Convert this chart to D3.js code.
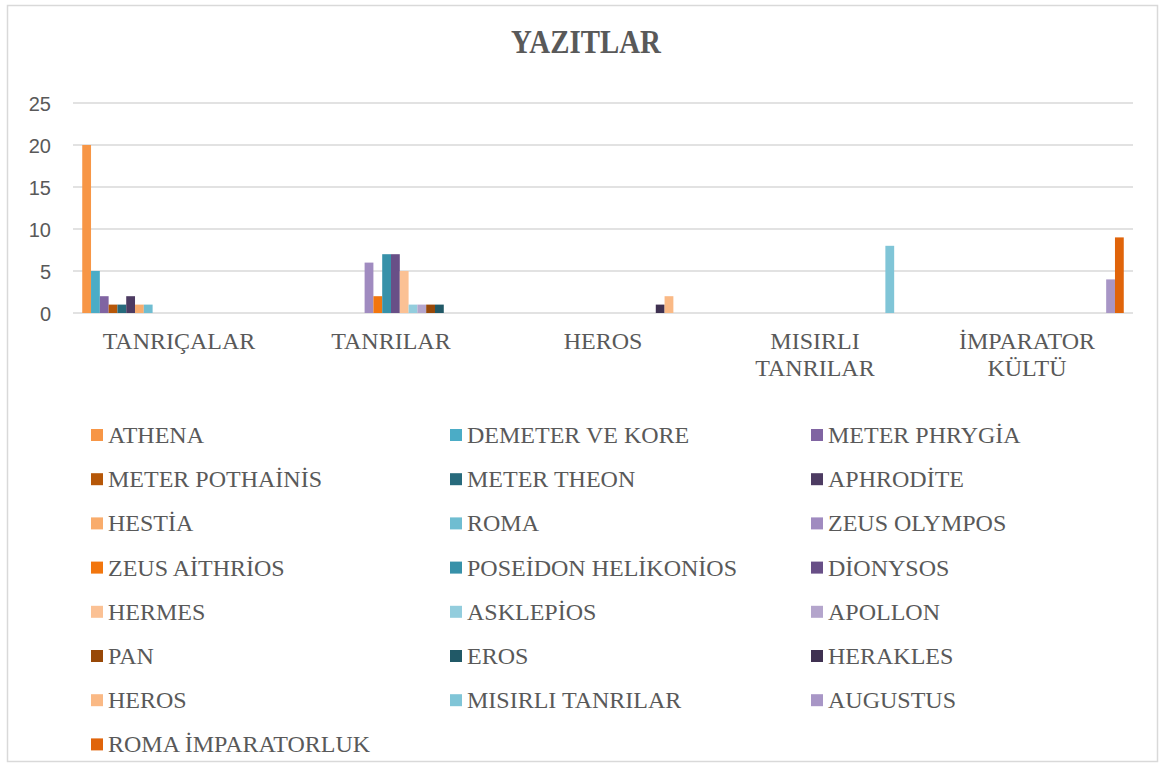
<!DOCTYPE html>
<html>
<head>
<meta charset="utf-8">
<script src="https://cdn.jsdelivr.net/npm/d3@7"></script>
<style>
  html, body { margin: 0; padding: 0; background: #fff; }
  svg { display: block; }
</style>
</head>
<body>
<svg id="chart" width="1161" height="765"></svg>
<script>
// Inscription counts per cult group, one series per deity / cult
const categories = ["TANRIÇALAR", "TANRILAR", "HEROS", "MISIRLI TANRILAR", "İMPARATOR KÜLTÜ"];
const categoryLines = [["TANRIÇALAR"], ["TANRILAR"], ["HEROS"], ["MISIRLI", "TANRILAR"], ["İMPARATOR", "KÜLTÜ"]];

const seriesNames = [
  "ATHENA", "DEMETER VE KORE", "METER PHRYGİA",
  "METER POTHAİNİS", "METER THEON", "APHRODİTE",
  "HESTİA", "ROMA", "ZEUS OLYMPOS",
  "ZEUS AİTHRİOS", "POSEİDON HELİKONİOS", "DİONYSOS",
  "HERMES", "ASKLEPİOS", "APOLLON",
  "PAN", "EROS", "HERAKLES",
  "HEROS", "MISIRLI TANRILAR", "AUGUSTUS",
  "ROMA İMPARATORLUK"
];

// values[i][j] = value of series i in category j (null = no bar)
const athena          = [20, null, null, null, null];
const demeterKore     = [5, null, null, null, null];
const meterPhrygia    = [2, null, null, null, null];
const meterPothainis  = [1, null, null, null, null];
const meterTheon      = [1, null, null, null, null];
const aphrodite       = [2, null, null, null, null];
const hestia          = [1, null, null, null, null];
const roma            = [1, null, null, null, null];
const zeusOlympos     = [null, 6, null, null, null];
const zeusAithrios    = [null, 2, null, null, null];
const poseidon        = [null, 7, null, null, null];
const dionysos        = [null, 7, null, null, null];
const hermes          = [null, 5, null, null, null];
const asklepios       = [null, 1, null, null, null];
const apollon         = [null, 1, null, null, null];
const pan             = [null, 1, null, null, null];
const eros            = [null, 1, null, null, null];
const herakles        = [null, null, 1, null, null];
const heros           = [null, null, 2, null, null];
const misirliTanrilar = [null, null, null, 8, null];
const augustus        = [null, null, null, null, 4];
const romaImparator   = [null, null, null, null, 9];

const values = [athena, demeterKore, meterPhrygia, meterPothainis, meterTheon, aphrodite,
  hestia, roma, zeusOlympos, zeusAithrios, poseidon, dionysos, hermes, asklepios, apollon,
  pan, eros, herakles, heros, misirliTanrilar, augustus, romaImparator];

const yTicks = [0, 5, 10, 15, 20, 25];

const colors = [
  "#F79646", "#4BACC6", "#8064A2",
  "#B65708", "#276A7C", "#4D3B62",
  "#F9AC6C", "#6FBDD1", "#A08BC0",
  "#F2760E", "#3791A9", "#684F87",
  "#FBC194", "#93CDDD", "#B4A5CC",
  "#984807", "#215967", "#3F3151",
  "#FAB985", "#80C5D7", "#A896C6",
  "#E0640A"
];

const svg = d3.select("#chart");
const textColor = "#595959";
const serif = "'Liberation Serif', 'Times New Roman', serif";
const sans = "'Liberation Sans', Arial, sans-serif";

// chart frame
svg.append("rect")
  .attr("x", 7.5).attr("y", 5.5).attr("width", 1150).attr("height", 756)
  .attr("fill", "#fff").attr("stroke", "#D9D9D9").attr("stroke-width", 1.5);

// title
svg.append("text")
  .attr("transform", "translate(586,53) scale(0.85,1)")
  .attr("text-anchor", "middle")
  .attr("font-family", serif).attr("font-weight", "bold")
  .attr("font-size", 34).attr("fill", textColor)
  .text("YAZITLAR");

const plotLeft = 73, plotRight = 1133, plotTop = 103, plotBottom = 313;

const x = d3.scaleBand().domain(categories).range([plotLeft, plotRight]).padding(0);
const xs = d3.scaleBand().domain(d3.range(seriesNames.length))
  .range([0, x.bandwidth()]).paddingInner(0).paddingOuter(1.05);
const y = d3.scaleLinear().domain([0, 25]).range([plotBottom, plotTop]);

// gridlines
svg.append("g").selectAll("line").data(yTicks).join("line")
  .attr("x1", plotLeft).attr("x2", plotRight)
  .attr("y1", d => y(d)).attr("y2", d => y(d))
  .attr("stroke", "#D9D9D9").attr("stroke-width", 1.5);

// y axis labels
const yAxis = svg.append("g")
  .attr("transform", `translate(${plotLeft - 22},0)`)
  .call(d3.axisLeft(y).tickValues(yTicks).tickSize(0).tickPadding(0));
yAxis.select(".domain").remove();
yAxis.selectAll("text")
  .attr("font-family", sans).attr("font-size", 20).attr("fill", textColor)
  .attr("dy", "0.35em");

// bars
const bars = [];
values.forEach((arr, i) => arr.forEach((v, j) => {
  if (v != null) bars.push({ s: i, c: categories[j], v });
}));
svg.append("g").selectAll("rect").data(bars).join("rect")
  .attr("x", d => x(d.c) + xs(d.s))
  .attr("width", xs.bandwidth())
  .attr("y", d => y(d.v))
  .attr("height", d => y(0) - y(d.v))
  .attr("fill", d => colors[d.s]);

// category labels
const catG = svg.append("g");
categories.forEach((c, j) => {
  const t = catG.append("text")
    .attr("text-anchor", "middle")
    .attr("font-family", serif).attr("font-size", 24).attr("fill", textColor);
  categoryLines[j].forEach((line, k) => {
    t.append("tspan")
      .attr("x", x(c) + x.bandwidth() / 2)
      .attr("y", 349 + k * 27)
      .text(line);
  });
});

// legend
const colX = [91, 450, 811];
const rowY0 = 435, rowStep = 44.2;
const leg = svg.append("g").selectAll("g").data(seriesNames).join("g")
  .attr("transform", (d, i) => `translate(${colX[i % 3]},${rowY0 + Math.floor(i / 3) * rowStep})`);
leg.append("rect")
  .attr("x", 0).attr("y", -6).attr("width", 12).attr("height", 12)
  .attr("fill", (d, i) => colors[i]);
leg.append("text")
  .attr("x", 17).attr("y", 8)
  .attr("font-family", serif).attr("font-size", 24).attr("fill", textColor)
  .text(d => d);
</script>
</body>
</html>
